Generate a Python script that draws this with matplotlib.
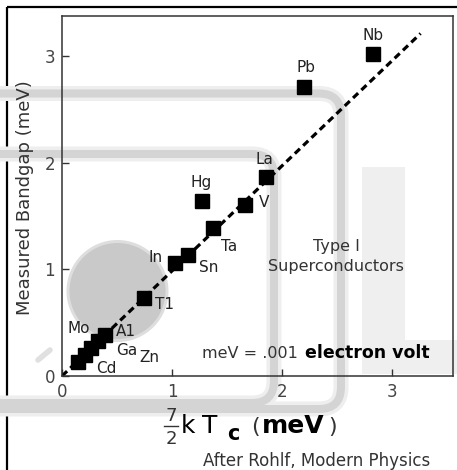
import matplotlib
matplotlib.use("Agg")
import matplotlib.pyplot as plt
from matplotlib.patches import FancyBboxPatch, Circle, Polygon, Rectangle
from matplotlib.lines import Line2D
from matplotlib.transforms import Affine2D

# data (meV)
elements = ['Cd', 'Zn', 'Ga', 'Mo', 'A1', 'T1', 'In', 'Sn', 'Ta', 'Hg', 'V', 'La', 'Pb', 'Nb']
kTc = [0.145, 0.21, 0.265, 0.33, 0.39, 0.75, 1.03, 1.15, 1.37, 1.27, 1.66, 1.855, 2.20, 2.83]
gap = [0.13, 0.20, 0.26, 0.33, 0.385, 0.73, 1.06, 1.13, 1.39, 1.64, 1.60, 1.865, 2.71, 3.02]
# label offsets from the marker, in pixels
label_dx = [28, 64, 36, -20, 21, 20, -20, 20, 16, -1, 19, -2, 2, 0]
label_dy = [-6, -3, -2, 12, 3, -6, 5, -12, -19, 19, 3, 18, 19, 18]

# BCS line 3.5 kTc
line_x = [0, 3.26]
line_y = [0, 3.21]

xticks = [0, 1, 2, 3]
yticks = [0, 1, 2, 3]

W, H = 457, 470
fig = plt.figure(figsize=(W / 100, H / 100), dpi=100)
fig.patch.set_facecolor('white')

# pixel coordinates of the image (origin top-left)
pix = Affine2D().scale(1 / W, -1 / H).translate(0, 1) + fig.transFigure

# outer frame
fig.add_artist(Rectangle((7, 7), 500, 500, transform=pix, fill=False,
                         edgecolor='black', lw=1.6, zorder=-3))

# faint background logo (line widths in pixels -> points)
for lw, col, z in [(15, '#eeeeee', -2.2), (8, '#d4d4d4', -2.1)]:
    for x0, y0, x1, y1 in [(-40, 93.5, 341, 409), (-40, 154, 274, 403)]:
        fig.add_artist(FancyBboxPatch((x0, y0), x1 - x0, y1 - y0,
                                      boxstyle='round,pad=0,rounding_size=22',
                                      transform=pix, fill=False, edgecolor=col,
                                      lw=lw * 0.72, zorder=z))
fig.add_artist(Polygon([(362, 167), (405, 167), (405, 340), (457, 340), (457, 374), (362, 374)],
                       closed=True, transform=pix, facecolor='#efefef', edgecolor='none', zorder=-2.5))
fig.add_artist(Circle((117.5, 291), 51, transform=pix, facecolor='#dedede', edgecolor='none', zorder=-2))
fig.add_artist(Circle((117.5, 291), 48, transform=pix, facecolor='#c9c9c9', edgecolor='none', zorder=-2))
fig.add_artist(Line2D([38, 50], [360, 350], transform=pix, color='#e0e0e0', lw=4,
                      solid_capstyle='round', zorder=-2))

ax = fig.add_axes([62 / W, 1 - 376 / H, 391 / W, 360 / H])
ax.set_facecolor('none')
ax.set_xlim(0, 3.555)
ax.set_ylim(0, 3.374)

ax.plot(line_x, line_y, color='black', lw=2.3, dashes=(2.2, 1.4), zorder=2)
ax.plot(kTc, gap, 's', color='black', ms=10, zorder=3)

for name, x, y, dx, dy in zip(elements, kTc, gap, label_dx, label_dy):
    ax.annotate(name, (x, y), xytext=(dx, dy), textcoords='offset pixels',
                ha='center', va='center', fontsize=11, color='#222222')

ax.set_xticks(xticks)
ax.set_yticks(yticks)
ax.tick_params(direction='in', length=5, width=1, colors='#333333',
               labelsize=12, labelcolor='#444444', pad=5)
for s in ax.spines.values():
    s.set_color('#333333')
    s.set_linewidth(1.1)

# texts in pixel positions
def ptext(x, y, s, **kw):
    fig.text(x / W, 1 - y / H, s, **kw)

ptext(25, 198, 'Measured Bandgap (meV)', rotation=90, ha='center', va='center',
      fontsize=13, color='#333333')

ptext(336, 246, 'Type I', ha='center', va='center', fontsize=11.5, color='#333333')
ptext(336, 267, 'Superconductors', ha='center', va='center', fontsize=11.5, color='#333333')

ptext(202, 358, 'meV = .001', ha='left', va='baseline', fontsize=11.5, color='#333333')
ptext(305, 358, 'electron volt', ha='left', va='baseline', fontsize=12.5,
      fontweight='bold', color='black')

# x label: 7/2 kT_c (meV)
ptext(171, 421, '7', ha='center', va='baseline', fontsize=13, color='#333333')
fig.add_artist(Line2D([164, 178], [426, 426], transform=pix, color='#333333', lw=1))
ptext(171, 444, '2', ha='center', va='baseline', fontsize=13, color='#333333')
ptext(181, 433, 'k', ha='left', va='baseline', fontsize=18, color='black')
ptext(202, 433, 'T', ha='left', va='baseline', fontsize=18, color='black')
ptext(227, 440, 'c', ha='left', va='baseline', fontsize=15, fontweight='bold', color='black')
ptext(251, 433, '(', ha='left', va='baseline', fontsize=16, color='#333333')
ptext(262, 433, 'meV', ha='left', va='baseline', fontsize=18, fontweight='bold', color='black')
ptext(328, 433, ')', ha='left', va='baseline', fontsize=16, color='#333333')

ptext(203, 466, 'After Rohlf, Modern Physics', ha='left', va='baseline',
      fontsize=12, color='#333333')

fig.savefig('out.png', dpi=100)
